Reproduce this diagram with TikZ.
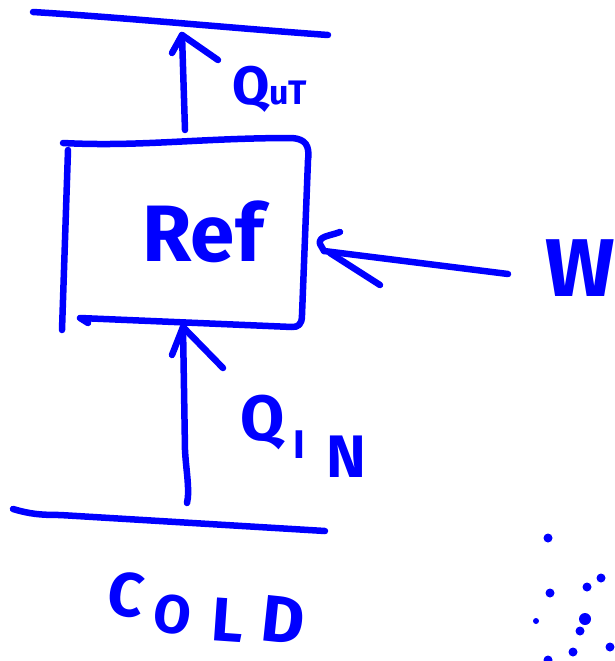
\documentclass[tikz,border=0pt]{standalone}
\usepackage{fontspec}
\setmainfont{Fira Sans}
\definecolor{ink}{RGB}{0,0,255}
\newcommand{\sz}[1]{\fontsize{#1}{#1}\selectfont}
\begin{document}
\begin{tikzpicture}[x=1pt,y=-1pt,
  pen/.style={draw=ink,line width=6.5pt,line cap=round,line join=round},
  script/.style={text=ink,font=\bfseries,inner sep=0pt},
  dot/.style={fill=ink}
]
\useasboundingbox (0,0) rectangle (614,661);

% hot reservoir (top) and cold reservoir (bottom)
\draw[pen] (33,12) .. controls (130,18) and (230,28) .. (328,35);
\draw[pen] (13,509) .. controls (30,514) and (40,515) .. (60,515) -- (325,531);

% refrigerator box
\draw[pen] (63,143) .. controls (140,147) and (200,138) .. (292,138)
  .. controls (305,139) and (310,145) .. (308,160) -- (302,315)
  .. controls (302,325) and (298,327) .. (292,327) -- (80,318) -- (88,323);
\draw[pen] (68,150) -- (62,330);
\node[script,font=\bfseries\sz{80}] (ref) at (203,232) {Ref};

% heat rejected to the hot side
\coordinate (outbase) at (185,130);
\coordinate (outtip) at (182,35);
\draw[pen] (outbase) -- (outtip);
\draw[pen] (172,53) -- (outtip) -- (218,60);
\node[script,anchor=base west] (qout) at (232,104)
  {{\sz{54}Q}{\sz{34}uT}};

% heat drawn from the cold side
\coordinate (inbase) at (187,503);
\coordinate (intip) at (183,327);
\draw[pen] (inbase) .. controls (190,490) and (186,470) .. (185,450) -- (intip);
\draw[pen] (172,355) -- (intip) -- (223,368);
\node[script,anchor=base west,font=\bfseries\sz{64}] (qin) at (240,440) {Q};
\node[script,anchor=base west,font=\bfseries\sz{40}] (qinI) at (293,458) {I};
\node[script,anchor=base west,font=\bfseries\sz{60}] (qinN) at (326,477) {N};

% work input
\coordinate (wbase) at (508,274);
\coordinate (wtip) at (324,251);
\draw[pen] (wbase) -- (wtip);
\draw[pen] (340,232) .. controls (330,236) and (318,236) .. (320,244) -- (wtip);
\draw[pen] (330,253) -- (380,285);
\node[script,anchor=base west,font=\bfseries\sz{82}] (w) at (545,296) {W};

% cold reservoir label
\node[script,font=\bfseries\sz{62},rotate=-8] (c1) at (126,595) {C};
\node[script,font=\bfseries\sz{54},rotate=-8] (c2) at (173,615) {O};
\node[script,font=\bfseries\sz{62},rotate=-4] (c3) at (228,620) {L};
\node[script,font=\bfseries\sz{66},rotate=-6] (c4) at (283,620) {D};

% scattered dots
\fill[dot] (548,538) circle (4.5);
\fill[dot] (601,578) circle (4.5);
\fill[dot] (587,587) circle (4.5);
\fill[dot] (550,593) circle (4.5);
\fill[dot] (536,621) circle (3);
\fill[dot] (585,619) circle (6);
\fill[dot] (580,631) circle (4.5);
\fill[dot] (573,652) circle (4.5);
\fill[dot] (610,647) circle (4.5);
\fill[dot] (548,660) circle (4.5);
\end{tikzpicture}
\end{document}
